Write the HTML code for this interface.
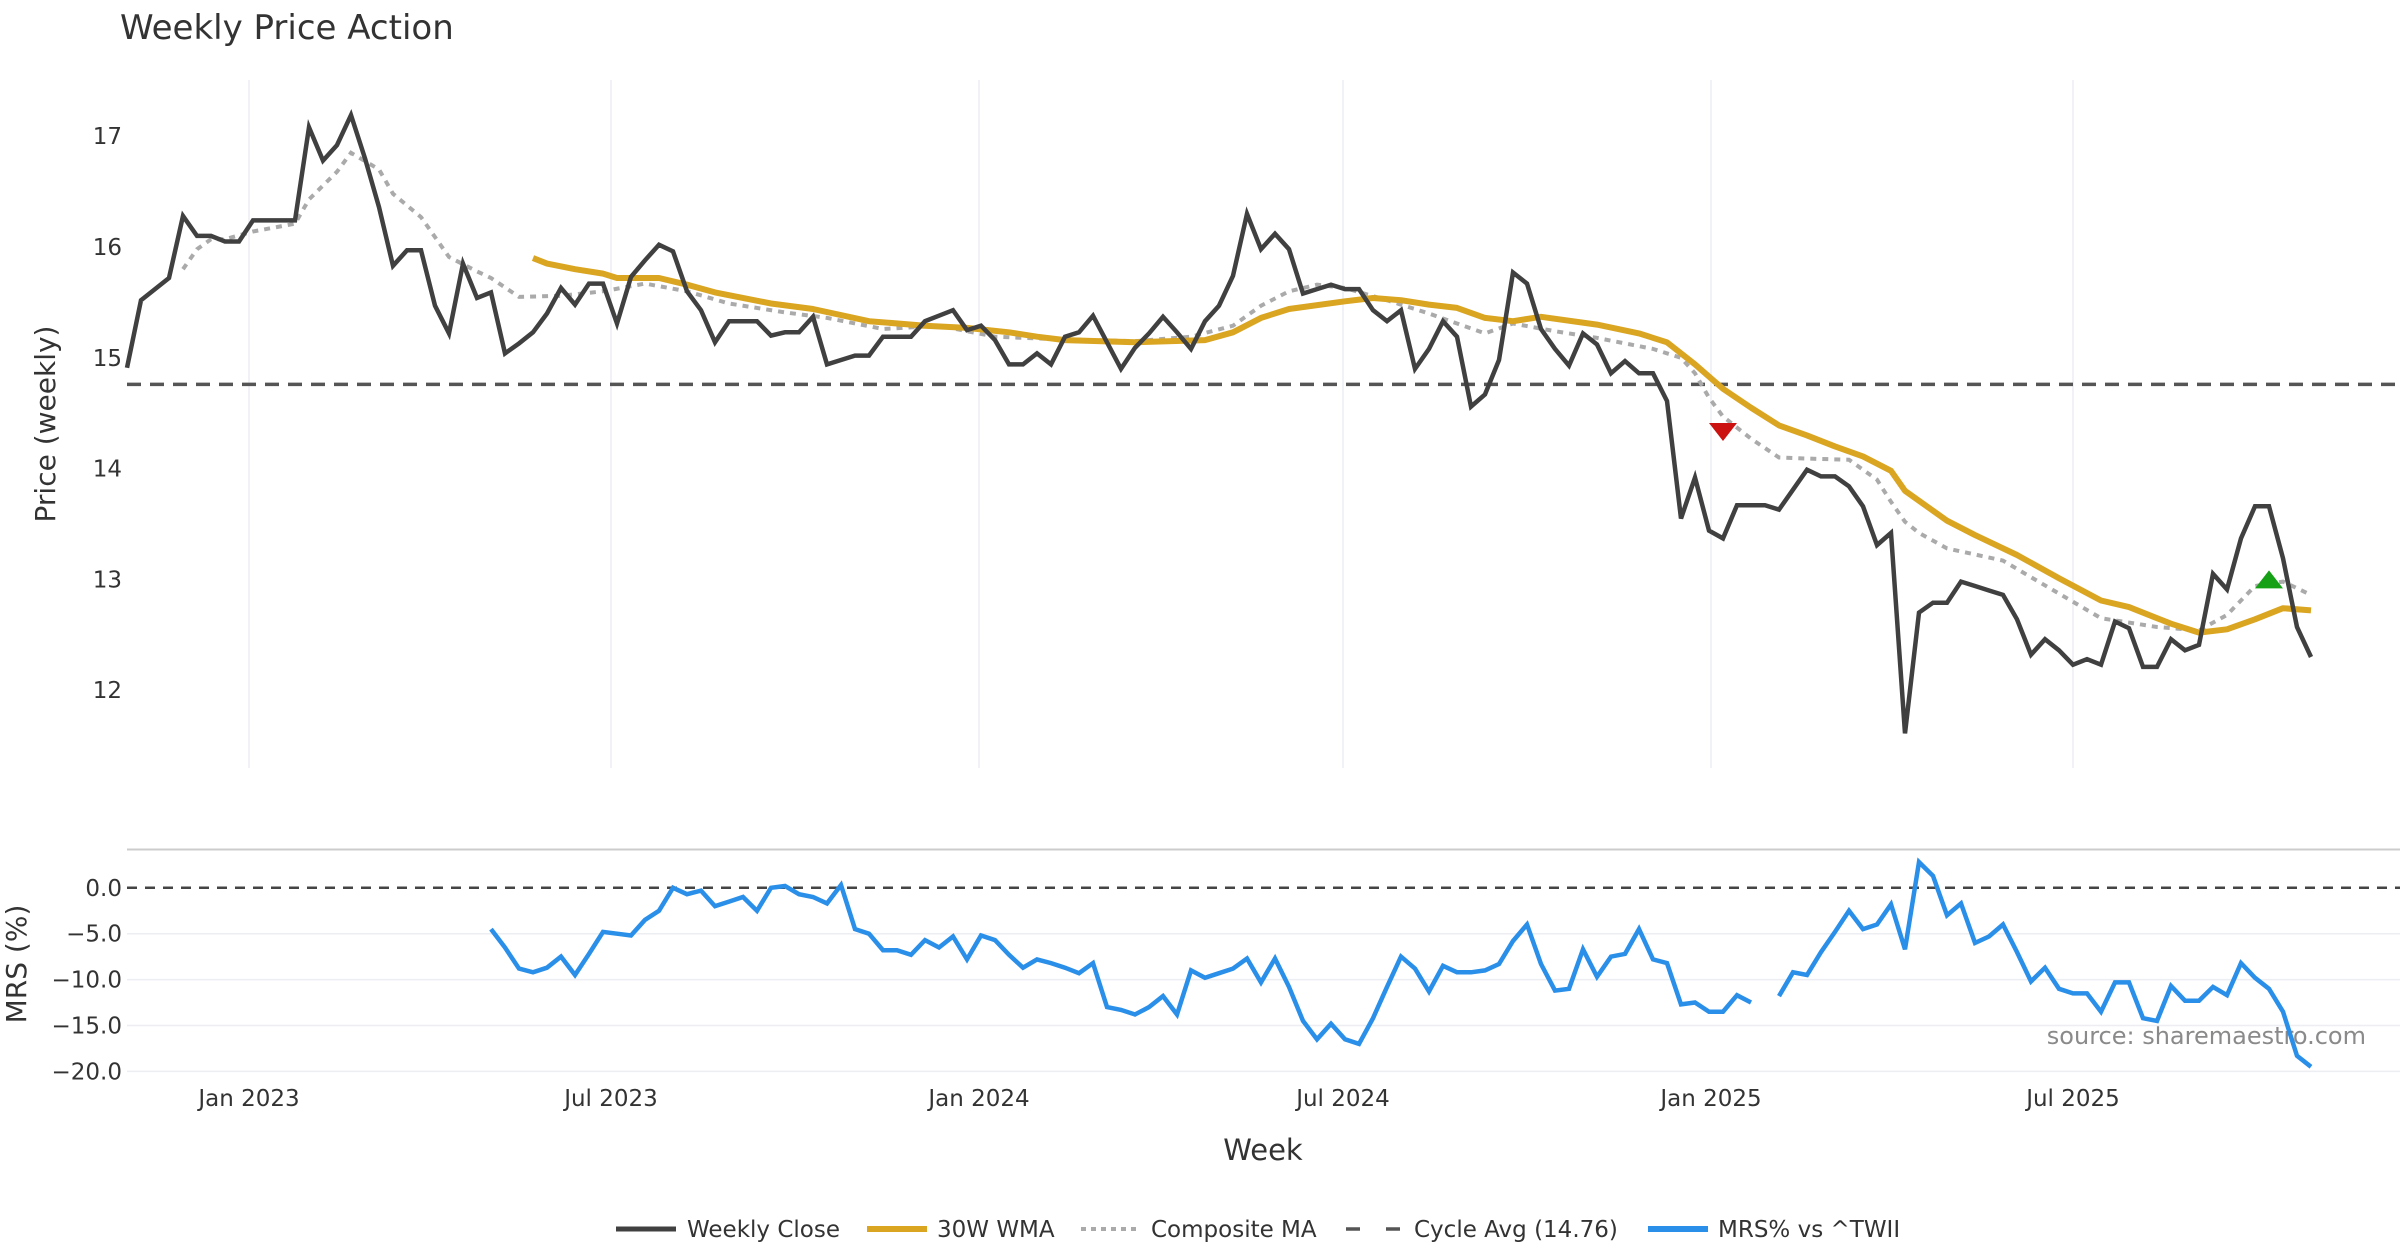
<!DOCTYPE html>
<html><head><meta charset="utf-8"><style>
html,body{margin:0;padding:0;background:#fff;}
svg{display:block;font-family:"DejaVu Sans","Liberation Sans",sans-serif;}
</style></head><body>
<svg id="chart" width="2400" height="1260" viewBox="0 0 2400 1260" xmlns="http://www.w3.org/2000/svg">
<rect width="2400" height="1260" fill="#fff"/>
<text x="120" y="39" font-size="34" fill="#333">Weekly Price Action</text>
<text transform="translate(55,424) rotate(-90)" text-anchor="middle" font-size="28" fill="#333">Price (weekly)</text>
<text transform="translate(26,964) rotate(-90)" text-anchor="middle" font-size="28" fill="#333">MRS (%)</text>
<text x="1263" y="1160" text-anchor="middle" font-size="29" fill="#333">Week</text>
<text x="2366" y="1044" text-anchor="end" font-size="24" fill="#8a8a8a">source: sharemaestro.com</text>
<g id="legend" font-size="23" fill="#333">
  <g><line x1="616" y1="1229" x2="676" y2="1229" stroke="#404040" stroke-width="5"/><text x="687" y="1237">Weekly Close</text></g>
  <g><line x1="867" y1="1229" x2="927" y2="1229" stroke="#DAA520" stroke-width="6"/><text x="937" y="1237">30W WMA</text></g>
  <g><line x1="1081" y1="1229" x2="1137" y2="1229" stroke="#aaa" stroke-width="4" stroke-dasharray="5,5"/><text x="1151" y="1237">Composite MA</text></g>
  <g><line x1="1346" y1="1229" x2="1400" y2="1229" stroke="#555" stroke-width="3.5" stroke-dasharray="14,26"/><text x="1414" y="1237">Cycle Avg (14.76)</text></g>
  <g><line x1="1648" y1="1229" x2="1708" y2="1229" stroke="#2a8fe8" stroke-width="6"/><text x="1718" y="1237">MRS% vs ^TWII</text></g>
</g>
</svg>
<script>
const closeValues=[14.91,15.52,15.62,15.72,16.28,16.10,16.10,16.05,16.05,16.24,16.24,16.24,16.24,17.08,16.78,16.92,17.19,16.80,16.36,15.83,15.97,15.97,15.47,15.22,15.85,15.54,15.59,15.04,15.13,15.23,15.40,15.63,15.48,15.67,15.67,15.31,15.73,15.88,16.02,15.96,15.60,15.43,15.14,15.33,15.33,15.33,15.20,15.23,15.23,15.37,14.94,14.98,15.02,15.02,15.19,15.19,15.19,15.33,15.38,15.43,15.25,15.29,15.16,14.94,14.94,15.04,14.94,15.19,15.23,15.38,15.14,14.90,15.09,15.22,15.37,15.23,15.08,15.33,15.47,15.74,16.30,15.98,16.12,15.98,15.58,15.62,15.66,15.62,15.62,15.43,15.33,15.43,14.90,15.08,15.33,15.19,14.56,14.67,14.98,15.77,15.67,15.26,15.08,14.93,15.22,15.12,14.86,14.97,14.86,14.86,14.61,13.55,13.92,13.44,13.37,13.67,13.67,13.67,13.63,13.81,13.99,13.93,13.93,13.84,13.66,13.31,13.42,11.61,12.70,12.79,12.79,12.98,12.94,12.90,12.86,12.64,12.32,12.46,12.36,12.23,12.28,12.23,12.62,12.56,12.21,12.21,12.46,12.36,12.41,13.05,12.91,13.37,13.66,13.66,13.19,12.57,12.30];
const wmaWeeks=[29,30,32,34,35,38,40,42,46,49,53,57,60,63,65,67,72,77,79,81,83,87,89,91,93,95,97,99,101,105,108,110,112,114,116,118,120,122,124,126,127,130,132,135,138,141,143,146,148,150,152,154,156];
const wmaValues=[15.90,15.85,15.80,15.76,15.72,15.72,15.66,15.59,15.49,15.44,15.33,15.29,15.27,15.23,15.19,15.16,15.14,15.16,15.23,15.36,15.44,15.51,15.54,15.52,15.48,15.45,15.36,15.33,15.37,15.30,15.22,15.14,14.94,14.72,14.55,14.39,14.30,14.20,14.11,13.98,13.80,13.53,13.40,13.22,13.01,12.81,12.75,12.60,12.52,12.55,12.64,12.74,12.72];
const compWeeks=[4,5,6,7,9,12,13,15,16,18,19,21,23,25,26,28,31,34,37,40,43,47,50,54,58,62,66,69,72,76,79,81,83,85,87,90,93,95,97,99,102,105,109,111,112,113,114,116,118,120,123,125,126,127,128,130,134,136,141,145,148,150,152,154,156];
const compValues=[15.80,15.98,16.07,16.07,16.14,16.21,16.43,16.68,16.85,16.70,16.48,16.27,15.91,15.78,15.72,15.55,15.56,15.60,15.67,15.60,15.49,15.41,15.36,15.26,15.29,15.19,15.17,15.16,15.15,15.19,15.29,15.47,15.60,15.66,15.63,15.52,15.40,15.31,15.22,15.31,15.24,15.18,15.08,15.00,14.86,14.64,14.47,14.27,14.10,14.09,14.08,13.90,13.70,13.52,13.42,13.28,13.17,13.02,12.65,12.57,12.54,12.68,12.94,12.98,12.86];
const mrsStart=26;
const mrsValues=[-4.5,-6.5,-8.8,-9.2,-8.7,-7.5,-9.5,-7.2,-4.8,-5.0,-5.2,-3.5,-2.5,0.0,-0.7,-0.3,-2.0,-1.5,-1.0,-2.5,0.0,0.2,-0.7,-1.0,-1.7,0.3,-4.5,-5.0,-6.8,-6.8,-7.3,-5.7,-6.5,-5.3,-7.8,-5.2,-5.7,-7.3,-8.7,-7.8,-8.2,-8.7,-9.3,-8.2,-13.0,-13.3,-13.8,-13.0,-11.8,-13.8,-9.0,-9.8,-9.3,-8.8,-7.7,-10.3,-7.7,-10.8,-14.5,-16.5,-14.8,-16.5,-17.0,-14.2,-10.8,-7.5,-8.8,-11.3,-8.5,-9.2,-9.2,-9.0,-8.3,-5.8,-4.0,-8.3,-11.2,-11.0,-6.7,-9.7,-7.5,-7.2,-4.5,-7.8,-8.2,-12.7,-12.5,-13.5,-13.5,-11.7,-12.5,null,-11.8,-9.2,-9.5,-7.0,-4.8,-2.5,-4.5,-4.0,-1.8,-6.7,2.8,1.3,-3.0,-1.7,-6.0,-5.3,-4.0,-7.0,-10.2,-8.7,-11.0,-11.5,-11.5,-13.5,-10.3,-10.3,-14.2,-14.5,-10.7,-12.3,-12.3,-10.8,-11.7,-8.2,-9.8,-11.0,-13.5,-18.3,-19.5];
const cycleAvg=14.76;
const sellSignal=[114,14.33];
const buySignal=[153,13.0];
const priceTicks=[12,13,14,15,16,17];
const mrsTicks=[0,-5,-10,-15,-20];
const mrsTickLabels=["0.0","\u22125.0","\u221210.0","\u221215.0","\u221220.0"];
const xTickLabels=["Jan 2023","Jul 2023","Jan 2024","Jul 2024","Jan 2025","Jul 2025"];
const xTickDates=["2023-01-01","2023-07-01","2024-01-01","2024-07-01","2025-01-01","2025-07-01"];
const firstWeekDate="2022-11-01";

const NS="http://www.w3.org/2000/svg";
const svg=document.getElementById('chart');
const X0=127, STEP=14.0;
function xw(i){return X0+i*STEP;}
function xDate(s){const d=(new Date(s)-new Date(firstWeekDate))/864e5/7;return xw(d);}
function yp(v){return 136.2+(17-v)*110.8;}
function ym(v){return 887.8-v*9.18;}
function mk(tag,attrs,parent){const e=document.createElementNS(NS,tag);for(const k in attrs)e.setAttribute(k,attrs[k]);(parent||svg).appendChild(e);return e;}
const legend=document.getElementById('legend');

const grid=mk('g',{});


svg.insertBefore(grid,legend);
xTickDates.forEach((d,i)=>{
  const x=xDate(d);
  const l=mk('line',{x1:x,y1:80,x2:x,y2:768,stroke:'#eceef2','stroke-width':1.5},grid);
  
  
  const t=mk('text',{x:x,y:1106,'text-anchor':'middle','font-size':23,fill:'#333'},grid);
  
  
  t.textContent=xTickLabels[i];
});
priceTicks.forEach(v=>{
  const t=mk('text',{x:122,y:yp(v)+8,'text-anchor':'end','font-size':23,fill:'#333'},grid);
  
  
  t.textContent=String(v);
});
const sep=mk('line',{x1:127,y1:849.5,x2:2400,y2:849.5,stroke:'#ccc','stroke-width':2},grid);


mrsTicks.forEach((v,i)=>{
  if(v!==0){
    const l=mk('line',{x1:127,y1:ym(v),x2:2400,y2:ym(v),stroke:'#eceef2','stroke-width':1.5},grid);
    
    
  }
  const t=mk('text',{x:122,y:ym(v)+8,'text-anchor':'end','font-size':23,fill:'#333'},grid);
  
  
  t.textContent=mrsTickLabels[i];
});

function pathFrom(xs,ys){let d='';let pen=false;for(let i=0;i<xs.length;i++){if(ys[i]===null||ys[i]===undefined){pen=false;continue;}d+=(pen?'L':'M')+xs[i].toFixed(1)+','+ys[i].toFixed(1);pen=true;}return d;}

const cyc=mk('line',{x1:127,y1:yp(cycleAvg),x2:2400,y2:yp(cycleAvg),stroke:'#555','stroke-width':3.5,'stroke-dasharray':'14,9'});


svg.insertBefore(cyc,legend);
const cp=mk('path',{d:pathFrom(compWeeks.map(xw),compValues.map(yp)),fill:'none',stroke:'#aaa','stroke-width':4,'stroke-dasharray':'6,6'});


svg.insertBefore(cp,legend);
const wp=mk('path',{d:pathFrom(wmaWeeks.map(xw),wmaValues.map(yp)),fill:'none',stroke:'#DAA520','stroke-width':6,'stroke-linejoin':'round'});


svg.insertBefore(wp,legend);
const clp=mk('path',{d:pathFrom(closeValues.map((v,i)=>xw(i)),closeValues.map(yp)),fill:'none',stroke:'#404040','stroke-width':4.5,'stroke-linejoin':'miter'});


svg.insertBefore(clp,legend);
{const x=xw(sellSignal[0]),y=yp(sellSignal[1]);
const s=mk('path',{d:`M${x-14},${y-9}L${x+14},${y-9}L${x},${y+9}Z`,fill:'#cc1111'});


svg.insertBefore(s,legend);}
{const x=xw(buySignal[0]),y=yp(buySignal[1]);
const s=mk('path',{d:`M${x-14},${y+9}L${x+14},${y+9}L${x},${y-9}Z`,fill:'#15a015'});


svg.insertBefore(s,legend);}
const z=mk('line',{x1:127,y1:ym(0),x2:2400,y2:ym(0),stroke:'#444','stroke-width':2.5,'stroke-dasharray':'10,8'});


svg.insertBefore(z,legend);
const mp=mk('path',{d:pathFrom(mrsValues.map((v,i)=>xw(mrsStart+i)),mrsValues.map(v=>v===null?null:ym(v))),fill:'none',stroke:'#2a8fe8','stroke-width':4.5,'stroke-linejoin':'miter'});


svg.insertBefore(mp,legend);
</script>
</body></html>
